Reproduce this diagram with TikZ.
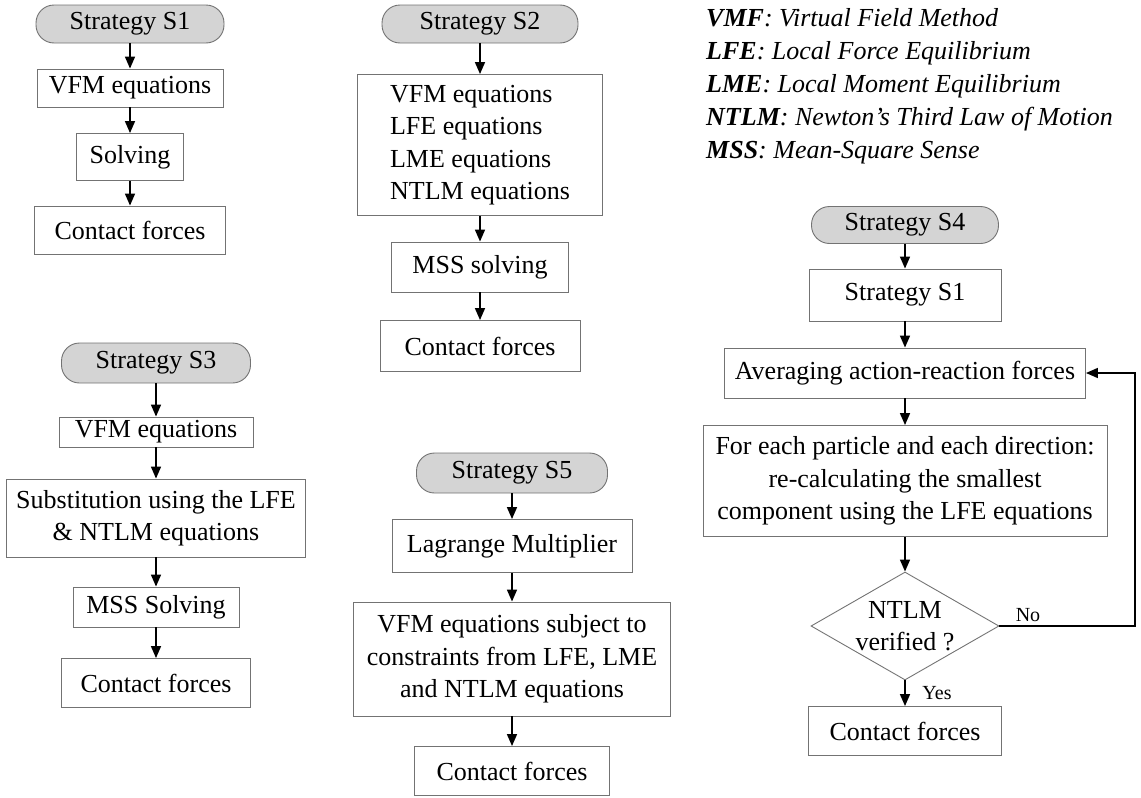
\documentclass[tikz,border=0pt]{standalone}
\usepackage{fontspec}
\setmainfont{Liberation Serif}
\usetikzlibrary{arrows.meta,shapes.geometric}

\tikzset{
  box/.style={draw=black!55, line width=0.9pt, fill=white, inner sep=0pt,
    align=center, font=\fontsize{26}{32.5}\selectfont},
  pill/.style={box, fill=black!17, rounded corners=18pt},
  decision/.style={diamond, draw=black!55, line width=0.9pt, inner sep=0pt},
  flow/.style={line width=1.6pt, -{Triangle[length=12pt,width=10pt]}},
  lbl/.style={font=\fontsize{20}{22}\selectfont, inner sep=0pt},
}

\begin{document}
\begin{tikzpicture}[x=1pt,y=1pt]
\useasboundingbox (0,0) rectangle (1141,-798);

% Strategy S1
\node[pill, minimum width=188pt, minimum height=38pt] (s1) at (130,-24) {Strategy S1};
\node[box, minimum width=186pt, minimum height=38pt] (s1vfm) at (130,-88) {VFM equations};
\node[box, minimum width=107pt, minimum height=47pt] (s1solv) at (130,-157) {Solving};
\node[box, minimum width=191pt, minimum height=48pt] (s1cf) at (130,-230) {Contact forces};
\draw[flow] (s1) -- (s1vfm);
\draw[flow] (s1vfm) -- (s1solv);
\draw[flow] (s1solv) -- (s1cf);

% Strategy S2
\node[pill, minimum width=196pt, minimum height=38pt] (s2) at (480,-24) {Strategy S2};
\node[box, align=left, minimum width=245pt, minimum height=141pt] (s2eq) at (480,-145)
  {VFM equations\\LFE equations\\LME equations\\NTLM equations};
\node[box, minimum width=177pt, minimum height=50pt] (s2mss) at (480,-267) {MSS solving};
\node[box, minimum width=200pt, minimum height=51pt] (s2cf) at (480,-346) {Contact forces};
\draw[flow] (s2) -- (s2eq);
\draw[flow] (s2eq) -- (s2mss);
\draw[flow] (s2mss) -- (s2cf);

% Strategy S3
\node[pill, minimum width=189pt, minimum height=40pt] (s3) at (156,-363) {Strategy S3};
\node[box, minimum width=194pt, minimum height=30pt] (s3vfm) at (156,-432) {VFM equations};
\node[box, minimum width=299pt, minimum height=78pt] (s3sub) at (156,-518)
  {Substitution using the LFE\\\& NTLM equations};
\node[box, minimum width=166pt, minimum height=40pt] (s3mss) at (156,-607) {MSS Solving};
\node[box, minimum width=189pt, minimum height=49pt] (s3cf) at (156,-683) {Contact forces};
\draw[flow] (s3) -- (s3vfm);
\draw[flow] (s3vfm) -- (s3sub);
\draw[flow] (s3sub) -- (s3mss);
\draw[flow] (s3mss) -- (s3cf);

% Strategy S5
\node[pill, minimum width=191pt, minimum height=40pt] (s5) at (512,-473) {Strategy S5};
\node[box, minimum width=240pt, minimum height=53pt] (s5lag) at (512,-546) {Lagrange Multiplier};
\node[box, minimum width=317pt, minimum height=114pt] (s5vfm) at (512,-659)
  {VFM equations subject to\\constraints from LFE, LME\\and NTLM equations};
\node[box, minimum width=195pt, minimum height=49pt] (s5cf) at (512,-771) {Contact forces};
\draw[flow] (s5) -- (s5lag);
\draw[flow] (s5lag) -- (s5vfm);
\draw[flow] (s5vfm) -- (s5cf);

% Strategy S4
\node[pill, minimum width=187pt, minimum height=37pt] (s4) at (905,-225) {Strategy S4};
\node[box, minimum width=192pt, minimum height=52pt] (s4s1) at (905,-295) {Strategy S1};
\node[box, minimum width=361pt, minimum height=50pt] (s4avg) at (905,-373) {Averaging action-reaction forces};
\node[box, minimum width=404pt, minimum height=111pt] (s4each) at (905,-481)
  {For each particle and each direction:\\re-calculating the smallest\\component using the LFE equations};
\node[decision, minimum width=188pt, minimum height=108pt] (s4dec) at (905,-626) {};
\node[box, draw=none, fill=none] (s4dectxt) at (s4dec) {NTLM\\verified ?};
\node[box, minimum width=193pt, minimum height=49pt] (s4cf) at (905,-731) {Contact forces};
\coordinate (loop) at (1135,-373);
\draw[flow] (s4) -- (s4s1);
\draw[flow] (s4s1) -- (s4avg);
\draw[flow] (s4avg) -- (s4each);
\draw[flow] (s4each) -- (s4dec);
\draw[flow] (s4dec) -- (s4cf);
\draw[flow] (s4dec.east) -| (loop) -- (s4avg.east);
\node[lbl] (no) at (1028,-615) {No};
\node[lbl] (yes) at (937,-693) {Yes};

% abbreviations
\node[anchor=north west, align=left, inner sep=0pt, font=\fontsize{26}{33}\selectfont\itshape] (legend) at (706,-8)
  {\textbf{VMF}: Virtual Field Method\\
   \textbf{LFE}: Local Force Equilibrium\\
   \textbf{LME}: Local Moment Equilibrium\\
   \textbf{NTLM}: Newton’s Third Law of Motion\\
   \textbf{MSS}: Mean-Square Sense};
\end{tikzpicture}
\end{document}
